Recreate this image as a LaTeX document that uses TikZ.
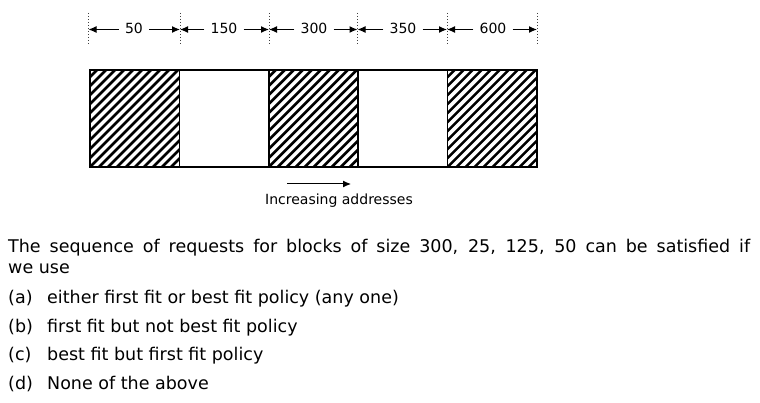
\documentclass[tikz,border=0pt]{standalone}
\usepackage{fontspec}
\setmainfont{DejaVu Sans}
\usetikzlibrary{arrows.meta}
\begin{document}
\begin{tikzpicture}[x=1pt,y=-1pt,
  blk/.style={draw, line width=1.5pt, minimum width=89.4pt, minimum height=97pt, inner sep=0, outer sep=0},
  hatched/.style={blk, path picture={
     \foreach \k in {-126,-117,...,126}
       \draw[line width=2.6pt] ([xshift=\k pt]path picture bounding box.south west) -- ++(110pt,110pt);}},
  dimlab/.style={anchor=base, inner xsep=6pt, inner ysep=0pt, font=\fontsize{14}{16}\selectfont},
  dimarr/.style={-{Latex[length=8pt,width=7pt]}, line width=1pt},
  guide/.style={dotted, line width=1pt, black!75},
  body/.style={anchor=base west, inner sep=0, font=\fontsize{17.5}{20}\selectfont},
  small/.style={anchor=base, inner sep=0, font=\fontsize{14}{16}\selectfont}]
\useasboundingbox (0,0) rectangle (760,403);
% guide lines
\foreach \i/\x in {0/88.5,1/180,2/269,3/357.5,4/447,5/537}{
  \coordinate (t\i) at (\x,13);
  \coordinate (b\i) at (\x,44);
  \coordinate (d\i) at (\x,29.5);
  \draw[guide] (t\i) -- (b\i);
}
% dimension labels
\node[dimlab] (l1) at (134,34) {50};
\node[dimlab] (l2) at (224,34) {150};
\node[dimlab] (l3) at (314,34) {300};
\node[dimlab] (l4) at (403,34) {350};
\node[dimlab] (l5) at (493,34) {600};
\foreach \i/\a/\b in {1/0/1,2/1/2,3/2/3,4/3/4,5/4/5}{
  \draw[dimarr] (l\i.west |- d\a) -- (d\a);
  \draw[dimarr] (l\i.east |- d\b) -- (d\b);
}
% blocks
\node[hatched] (m1) at (134.7,118.5) {};
\node[blk] (m2) at (224.1,118.5) {};
\node[hatched] (m3) at (313.5,118.5) {};
\node[blk] (m4) at (402.9,118.5) {};
\node[hatched] (m5) at (492.3,118.5) {};
% direction arrow
\coordinate (as) at (287,184);
\coordinate (ae) at (351,184);
\draw[-{Latex[length=8pt,width=7pt]}, line width=1pt] (as) -- (ae);
\node[small] (inc) at (339,205) {Increasing addresses};
% question text
\node[body] (q1) at (8,253) {\makebox[742pt][s]{The sequence of requests for blocks of size 300, 25, 125, 50 can be satisfied if}};
\node[body] (q2) at (8,273) {we use};
\node[body] (oa) at (8,303) {\makebox[39pt][l]{(a)}either first fit or best fit policy (any one)};
\node[body] (ob) at (8,332) {\makebox[39pt][l]{(b)}first fit but not best fit policy};
\node[body] (oc) at (8,360) {\makebox[39pt][l]{(c)}best fit but first fit policy};
\node[body] (od) at (8,389) {\makebox[39pt][l]{(d)}None of the above};
\end{tikzpicture}
\end{document}
